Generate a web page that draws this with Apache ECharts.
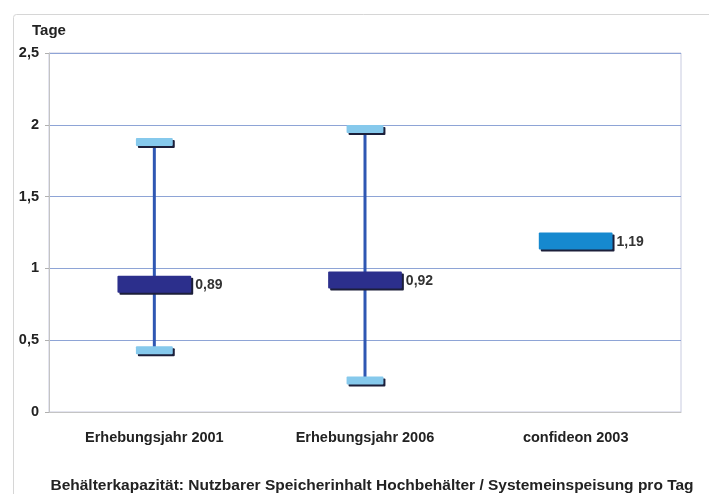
<!DOCTYPE html>
<html>
<head>
<meta charset="utf-8">
<script src="https://cdn.jsdelivr.net/npm/echarts@6/dist/echarts.min.js"></script>
<style>
  html, body { margin: 0; padding: 0; background: #ffffff; }
  #chart { width: 709px; height: 494px; }
</style>
</head>
<body>
<div id="chart"></div>
<script>
// Storage capacity in days (usable reservoir volume / daily system input)
var categories = ['Erhebungsjahr 2001', 'Erhebungsjahr 2006', 'confideon 2003'];
var meanValues = [0.89, 0.92, 1.19];
var minValues = [0.43, 0.22, null];
var maxValues = [1.88, 1.97, null];
var yTicks = [0, 0.5, 1, 1.5, 2, 2.5];

var meanColors = ['#2c2f8c', '#2c2f8c', '#1689cf'];
var capColor = '#86c9ec';
var whiskerColor = '#2f57b3';
var shadowColor = '#1c1f3a';

var FONT = '"Liberation Sans", Arial, sans-serif';

var seriesData = categories.map(function (c, i) {
  return [i, meanValues[i], minValues[i], maxValues[i]];
});

function fmt(v) {
  return String(v).replace('.', ',');
}

function renderItem(params, api) {
  var idx = api.value(0);
  var band = api.size([1, 0])[0];
  var children = [];
  var mean = api.value(1);
  var lo = api.value(2);
  var hi = api.value(3);
  var pMean = api.coord([idx, mean]);
  var cx = pMean[0];
  var meanW = band * 0.35;
  var meanH = 17;
  var capW = band * 0.175;
  var capH = 8;
  var shadow = { shadowColor: shadowColor, shadowOffsetX: 2, shadowOffsetY: 2, shadowBlur: 0 };

  if (lo != null && !isNaN(lo) && hi != null && !isNaN(hi)) {
    var pLo = api.coord([idx, lo]);
    var pHi = api.coord([idx, hi]);
    children.push({
      type: 'line',
      shape: { x1: cx, y1: pHi[1], x2: cx, y2: pLo[1] },
      style: { stroke: whiskerColor, lineWidth: 3 }
    });
    [pHi, pLo].forEach(function (p) {
      children.push({
        type: 'rect',
        shape: { x: cx - capW / 2, y: p[1] - capH / 2, width: capW, height: capH, r: 1 },
        style: Object.assign({ fill: capColor }, shadow)
      });
    });
  }

  children.push({
    type: 'rect',
    shape: { x: cx - meanW / 2, y: pMean[1] - meanH / 2, width: meanW, height: meanH, r: 1 },
    style: Object.assign({ fill: meanColors[idx] }, shadow)
  });
  children.push({
    type: 'text',
    x: cx + meanW / 2 + 4,
    y: pMean[1] + 1,
    style: {
      text: fmt(mean),
      fill: '#333333',
      font: 'bold 14px ' + FONT,
      textAlign: 'left',
      textVerticalAlign: 'middle'
    }
  });

  return { type: 'group', children: children };
}

var chart = echarts.init(document.getElementById('chart'), null, { renderer: 'canvas' });

chart.setOption({
  animation: false,
  backgroundColor: '#ffffff',
  title: {
    text: 'Behälterkapazität: Nutzbarer Speicherinhalt Hochbehälter / Systemeinspeisung pro Tag',
    left: 367,
    top: 473,
    textAlign: 'center',
    textStyle: { fontFamily: FONT, fontWeight: 'bold', fontSize: 15.5, color: '#222222' }
  },
  graphic: [{
    type: 'rect',
    silent: true,
    z: -1,
    shape: { x: 13.5, y: 14.5, width: 720, height: 500, r: 3 },
    style: { fill: 'none', stroke: '#d6d6d6', lineWidth: 1 }
  }],
  grid: {
    left: 49, right: 28, top: 53, bottom: 82,
    show: true,
    borderColor: '#c8cbe0',
    borderWidth: 1,
    backgroundColor: 'transparent'
  },
  xAxis: {
    type: 'category',
    data: categories,
    axisLine: { show: true, lineStyle: { color: '#c4c4c4', width: 1 } },
    axisTick: { show: false },
    axisLabel: {
      margin: 18,
      fontFamily: FONT,
      fontWeight: 'bold',
      fontSize: 14.5,
      color: '#222222'
    }
  },
  yAxis: {
    type: 'value',
    min: yTicks[0],
    max: yTicks[yTicks.length - 1],
    interval: 0.5,
    name: 'Tage',
    nameLocation: 'end',
    nameGap: 15,
    nameTextStyle: {
      fontFamily: FONT,
      fontWeight: 'bold',
      fontSize: 15,
      color: '#222222',
      align: 'center'
    },
    axisLine: { show: true, lineStyle: { color: '#c4c4c4' } },
    axisTick: { show: true, length: 4, lineStyle: { color: '#b0b0b0' } },
    axisLabel: {
      margin: 10,
      fontFamily: FONT,
      fontWeight: 'bold',
      fontSize: 14.5,
      color: '#222222',
      formatter: function (v) { return fmt(v); }
    },
    splitLine: { show: true, lineStyle: { color: '#8ea4d6', width: 1 } }
  },
  series: [{
    type: 'custom',
    renderItem: renderItem,
    encode: { x: 0, y: [1, 2, 3] },
    data: seriesData,
    z: 3
  }]
});
</script>
</body>
</html>
